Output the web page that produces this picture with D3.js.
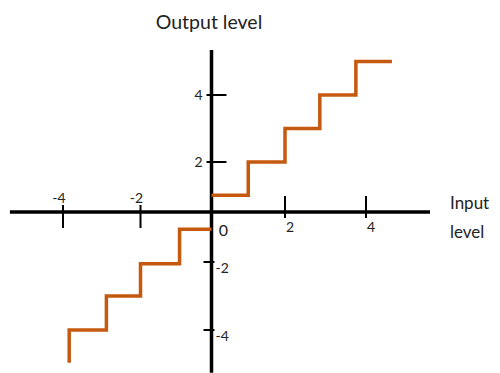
<!DOCTYPE html>
<html>
<head>
<meta charset="utf-8">
<script src="https://cdn.jsdelivr.net/npm/d3@7"></script>
<style>
  body { margin: 0; background: #fff; }
  text { font-family: Lato, "Open Sans", sans-serif; fill: #222; }
</style>
</head>
<body>
<div id="chart"></div>
<script>
// tick values on both axes
var tickValues = [-4, -2, 2, 4];
var axisXRange = [-5.37, 5.58];
var axisYRange = [-5.26, 5.34];

// upper staircase (step-after points)
var upperX = [0, 1, 2, 2.86, 3.75, 4.64];
var upperY = [0.67, 2, 3, 4, 5, 5];

// lower staircase
var lowerX = [0, -0.9, -2, -2.88, -3.84];
var lowerY = [-0.69, -2.05, -3, -4, -4.96];

var width = 500, height = 373;

var svg = d3.select("#chart").append("svg")
    .attr("width", width)
    .attr("height", height);

// hand drawn axes: tick spacing is not even, so use piecewise scales
var x = d3.scaleLinear().domain([-4, -2, 0, 2, 4]).range([63, 140.5, 211.5, 285, 366]);
var y = d3.scaleLinear().domain([-4, -2, 0, 2, 4]).range([330, 262, 212, 162, 95]);

// axes
svg.append("line")
    .attr("x1", x(axisXRange[0])).attr("x2", x(axisXRange[1]))
    .attr("y1", y(0)).attr("y2", y(0))
    .attr("stroke", "#000").attr("stroke-width", 3.5);
svg.append("line")
    .attr("x1", x(0)).attr("x2", x(0))
    .attr("y1", y(axisYRange[0])).attr("y2", y(axisYRange[1]))
    .attr("stroke", "#000").attr("stroke-width", 3.5);

// x ticks
svg.selectAll(".xtick")
    .data(tickValues)
    .enter().append("line")
    .attr("class", "xtick")
    .attr("x1", function(d){return x(d);})
    .attr("x2", function(d){return x(d);})
    .attr("y1", function(d){return d < 0 ? y(0) - 7 : y(0) - 16;})
    .attr("y2", function(d){return d < 0 ? y(0) + 16 : y(0) + 6;})
    .attr("stroke", "#000").attr("stroke-width", 2);

svg.selectAll(".xlabel")
    .data(tickValues)
    .enter().append("text")
    .attr("class", "xlabel")
    .attr("x", function(d){return x(d) + (d < 0 ? -4 : 5);})
    .attr("y", function(d){return d < 0 ? y(0) - 9 : y(0) + 20;})
    .attr("text-anchor", "middle")
    .attr("font-size", 14)
    .text(function(d){return d;});

svg.append("text")
    .attr("x", x(0) + 12)
    .attr("y", y(0) + 24)
    .attr("text-anchor", "middle")
    .attr("font-size", 16)
    .text("0");

// y ticks
svg.selectAll(".ytick")
    .data(tickValues)
    .enter().append("line")
    .attr("class", "ytick")
    .attr("x1", function(d){return d > 0 ? x(0) - 5 : x(0) - 8;})
    .attr("x2", function(d){return d > 0 ? x(0) + 15 : x(0) + 3;})
    .attr("y1", function(d){return y(d);})
    .attr("y2", function(d){return y(d);})
    .attr("stroke", "#000").attr("stroke-width", 2);

svg.selectAll(".ylabel")
    .data(tickValues)
    .enter().append("text")
    .attr("class", "ylabel")
    .attr("x", function(d){return d > 0 ? x(0) - 9 : x(0) + 4;})
    .attr("y", function(d){return y(d) + (d > 0 ? 5 : 11);})
    .attr("text-anchor", function(d){return d > 0 ? "end" : "start";})
    .attr("font-size", 14)
    .text(function(d){return d;});

// staircases
var line = d3.line()
    .x(function(d){return x(d[0]);})
    .y(function(d){return y(d[1]);})
    .curve(d3.curveStepAfter);

svg.append("path")
    .datum(d3.zip(upperX, upperY))
    .attr("d", line)
    .attr("fill", "none")
    .attr("stroke", "#c5590f")
    .attr("stroke-width", 3.5);

svg.append("path")
    .datum(d3.zip(lowerX, lowerY))
    .attr("d", line)
    .attr("fill", "none")
    .attr("stroke", "#c5590f")
    .attr("stroke-width", 3.5);

// axis titles
svg.append("text")
    .attr("x", 209)
    .attr("y", 29)
    .attr("text-anchor", "middle")
    .attr("font-size", 19.5)
    .text("Output level");

svg.append("text")
    .attr("x", 450)
    .attr("y", 209)
    .attr("font-size", 17)
    .text("Input");
svg.append("text")
    .attr("x", 450)
    .attr("y", 238)
    .attr("font-size", 17)
    .text("level");
</script>
</body>
</html>
